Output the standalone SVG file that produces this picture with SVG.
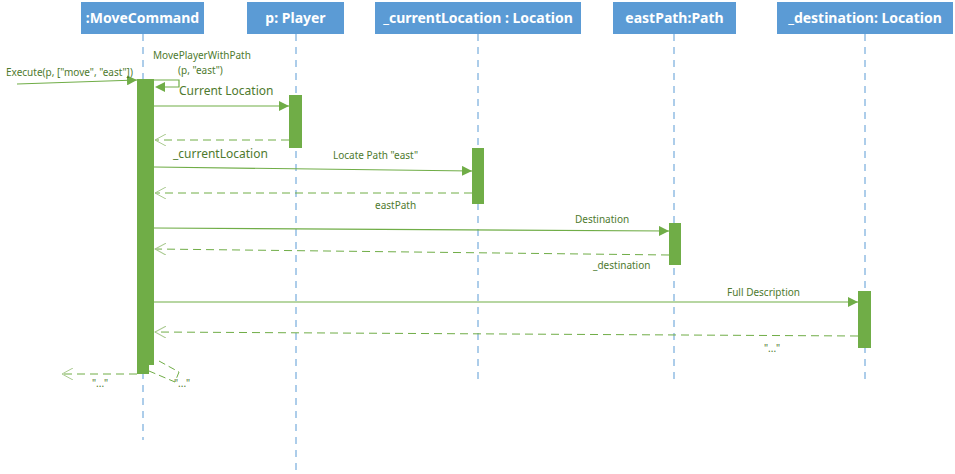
<svg xmlns="http://www.w3.org/2000/svg" width="955" height="474" viewBox="0 0 955 474">
<defs>
<marker id="fill" viewBox="0 0 10 10" refX="10" refY="5" markerWidth="10" markerHeight="10" markerUnits="userSpaceOnUse" orient="auto">
<path d="M0,0 L10,5 L0,10 z" fill="#70ad47"/>
</marker>
<marker id="open" viewBox="0 0 12 12" refX="11" refY="6" markerWidth="12" markerHeight="12" markerUnits="userSpaceOnUse" orient="auto">
<path d="M0,0 L11,6 L0,12" fill="none" stroke="#a9c98f" stroke-width="1"/>
</marker>
</defs>
<style>
.box{fill:#5b9bd5}
.hd{font-family:"Noto Sans","Open Sans",sans-serif;font-weight:bold;font-size:14px;fill:#fff;text-anchor:middle}
.life{stroke:#5b9bd5;stroke-width:1;stroke-dasharray:7,6;fill:none}
.act{fill:#70ad47}
.msg{stroke:#70ad47;stroke-width:1.2;fill:none;marker-end:url(#fill)}
.ret{stroke:#70ad47;stroke-width:1;stroke-dasharray:8,5;fill:none;marker-end:url(#open)}
.lb{font-family:"Noto Sans","Open Sans",sans-serif;font-size:10px;fill:#4e7a2e}
.lbm{font-family:"Noto Sans","Open Sans",sans-serif;font-size:12px;fill:#4e7a2e}
</style>
<g id="moveCommand">
<rect class="box" x="81" y="2" width="123" height="32"/>
<text class="hd" x="142.5" y="23">:MoveCommand</text>
<line class="life" x1="143" y1="34" x2="143" y2="440"/>
<path class="act" d="M137,79 H154 V365 H149 V374 H137 Z"/>
</g>
<g id="player">
<rect class="box" x="247" y="2" width="97" height="32"/>
<text class="hd" x="295.5" y="23">p: Player</text>
<line class="life" x1="296" y1="34" x2="296" y2="474"/>
<rect class="act" x="289" y="95" width="13" height="53"/>
</g>
<g id="currentLocation">
<rect class="box" x="375" y="2" width="206" height="32"/>
<text class="hd" x="478" y="23">_currentLocation : Location</text>
<line class="life" x1="478" y1="34" x2="478" y2="384"/>
<rect class="act" x="472" y="148" width="12" height="56"/>
</g>
<g id="eastPath">
<rect class="box" x="613" y="2" width="123" height="32"/>
<text class="hd" x="674.5" y="23">eastPath:Path</text>
<line class="life" x1="674" y1="34" x2="674" y2="384"/>
<rect class="act" x="669" y="223" width="12" height="42"/>
</g>
<g id="destination">
<rect class="box" x="777" y="2" width="176" height="32"/>
<text class="hd" x="865" y="23">_destination: Location</text>
<line class="life" x1="865" y1="34" x2="865" y2="384"/>
<rect class="act" x="858" y="291" width="13" height="57"/>
</g>
<g id="connectors">
<line class="msg" x1="17" y1="84" x2="137" y2="80"/>
<text class="lb" x="6" y="76">Execute(p, ["move", "east"])</text>
<path d="M154,80 H179 V87 H164" fill="none" stroke="#70ad47" stroke-width="1.2"/>
<path d="M155,87 L165,82 L165,92 Z" fill="#70ad47"/>
<text class="lb" x="153" y="59" font-size="9.5">MovePlayerWithPath</text>
<text class="lb" x="178" y="74" font-size="9.5">(p, "east")</text>
<line class="msg" x1="154" y1="106" x2="289" y2="106"/>
<text class="lbm" x="179" y="95">Current Location</text>
<line class="ret" x1="289" y1="140" x2="155" y2="140"/>
<line class="msg" x1="154" y1="167" x2="472" y2="171"/>
<text class="lbm" x="173" y="158">_currentLocation</text>
<text class="lb" x="333" y="159">Locate Path "east"</text>
<line class="ret" x1="472" y1="193" x2="155" y2="193"/>
<text class="lb" x="375" y="209">eastPath</text>
<line class="msg" x1="154" y1="228" x2="669" y2="231"/>
<text class="lb" x="575" y="223">Destination</text>
<line class="ret" x1="669" y1="255" x2="155" y2="249"/>
<text class="lb" x="593" y="269">_destination</text>
<line class="msg" x1="154" y1="302" x2="858" y2="302"/>
<text class="lb" x="727" y="296">Full Description</text>
<line class="ret" x1="858" y1="336" x2="155" y2="332"/>
<text class="lb" x="764" y="352">"..."</text>
<line class="ret" x1="137" y1="374" x2="62" y2="374"/>
<text class="lb" x="92" y="387">"..."</text>
<path d="M159,361 L179,372 L175,382 L149,371" fill="none" stroke="#70ad47" stroke-width="1" stroke-dasharray="7,4"/>
<text class="lb" x="174" y="387">"..."</text>
</g>
</svg>
